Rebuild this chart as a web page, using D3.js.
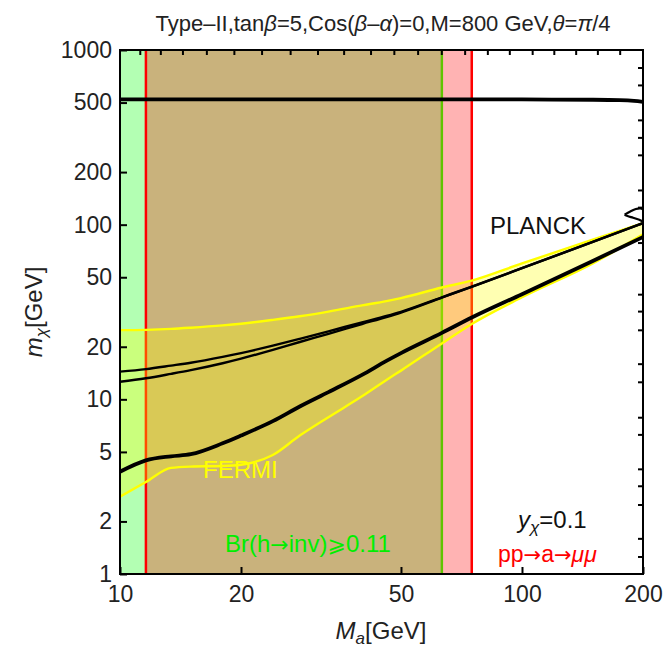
<!DOCTYPE html>
<html>
<head>
<meta charset="utf-8">
<script src="https://cdn.jsdelivr.net/npm/d3@7"></script>
<style>
  body { margin: 0; background: #fff; }
  text { font-family: "Liberation Sans", Arial, sans-serif; }
  .arrow { font-family: "DejaVu Sans", sans-serif; }
</style>
</head>
<body>
<div id="chart"></div>
<script>
var width = 664;
var height = 647;
var margin = {top: 50, left: 120, right: 21, bottom: 73};

// axis ticks
var xTicks = [10, 20, 50, 100, 200];
var yTicks = [1, 2, 5, 10, 20, 50, 100, 200, 500, 1000];
var topTicks = [11.2, 12.6, 14.3, 16.4, 19.2, 22.5, 26.5, 31, 36, 42, 48, 55, 63, 72, 82, 93, 106, 120, 136, 154, 175];
var rightTicks = [794, 631, 398, 316, 251, 158, 126, 79, 63, 40, 32, 25, 16, 12.6, 7.9, 6.3, 4, 3.2, 2.5, 1.6, 1.26];

// excluded bands (Ma in GeV)
var brInvBand = [10, 63.2];
var dimuonBand = [11.6, 75];

// curves, m_chi sampled on maGrid
var maGrid = [10, 11.6, 13.4, 15, 18, 20, 24, 28, 33, 40, 46, 50, 63.2, 75, 100, 150, 200];
var fermiUpper = [24.9, 25.0, 25.3, 25.7, 26.5, 27.1, 28.5, 29.9, 31.8, 34.5, 36.5, 38.0, 43.7, 47.8, 60, 82, 102];
var fermiLower = [2.77, 3.36, 4.05, 4.12, 4.15, 4.22, 4.8, 6.2, 7.9, 10.4, 12.9, 14.6, 20.9, 27.0, 38.4, 60, 88];
var planckUpperA = [14.4, 14.9, 15.6, 16.2, 17.5, 18.4, 20.3, 22.2, 24.5, 27.6, 30.0, 31.7, 38.4, 44.2, 56.4, 79.7, 102];
var planckUpperB = [12.6, 13.2, 14.0, 14.7, 16.1, 17.1, 19.2, 21.3, 23.7, 27.0, 29.6, 31.4, 38.2, 44.1, 56.3, 79.6, 102];
var planckLower = [3.85, 4.47, 4.72, 4.85, 5.6, 6.2, 7.5, 9.1, 11.0, 13.8, 16.6, 18.4, 24.0, 29.4, 40, 62, 85];
var planckTopMa = [10, 50, 100, 150, 175, 190, 200];
var planckTopM = [522, 522, 521, 519, 516, 511, 505];
var loopMa = [180, 186, 192, 197, 200, 200, 195, 189, 183, 180];
var loopM = [114, 119, 123, 124, 122, 105, 107, 109.5, 112, 114];

var svg = d3.select("#chart")
  .append("svg")
  .attr("width", width)
  .attr("height", height);

var xScale = d3.scaleLog()
  .domain([10, 200])
  .range([margin.left, width - margin.right]);

var yScale = d3.scaleLog()
  .domain([1, 1000])
  .range([height - margin.bottom, margin.top]);

svg.append("clipPath").attr("id", "plot")
  .append("rect")
  .attr("x", margin.left).attr("y", margin.top)
  .attr("width", width - margin.left - margin.right)
  .attr("height", height - margin.top - margin.bottom);

var g = svg.append("g").attr("clip-path", "url(#plot)");

// bands
g.append("rect")
  .attr("x", xScale(brInvBand[0])).attr("y", margin.top)
  .attr("width", xScale(brInvBand[1]) - xScale(brInvBand[0]))
  .attr("height", height - margin.top - margin.bottom)
  .attr("fill", "#b3ffb3");
g.append("rect")
  .attr("x", xScale(dimuonBand[0])).attr("y", margin.top)
  .attr("width", xScale(dimuonBand[1]) - xScale(dimuonBand[0]))
  .attr("height", height - margin.top - margin.bottom)
  .attr("fill", "#ffb3b3");
g.append("rect")
  .attr("x", xScale(dimuonBand[0])).attr("y", margin.top)
  .attr("width", xScale(brInvBand[1]) - xScale(dimuonBand[0]))
  .attr("height", height - margin.top - margin.bottom)
  .attr("fill", "#c9b27c");

[dimuonBand[0], dimuonBand[1]].forEach(function(v) {
  g.append("line")
    .attr("x1", xScale(v)).attr("x2", xScale(v))
    .attr("y1", margin.top).attr("y2", height - margin.bottom)
    .attr("stroke", "#ff0000").attr("stroke-width", 2.5);
});
g.append("line")
  .attr("x1", xScale(brInvBand[1])).attr("x2", xScale(brInvBand[1]))
  .attr("y1", margin.top).attr("y2", height - margin.bottom)
  .attr("stroke", "#5fc400").attr("stroke-width", 2.4);

// fermi region
var area = d3.area()
  .x(function(d, i) { return xScale(maGrid[i]); })
  .y0(function(d, i) { return yScale(fermiLower[i]); })
  .y1(function(d, i) { return yScale(fermiUpper[i]); })
  .curve(d3.curveMonotoneX);
g.append("path")
  .attr("d", area(maGrid))
  .attr("fill", "#ffff00")
  .attr("fill-opacity", 0.3);

function curveOf(ys) {
  return d3.line()
    .x(function(d, i) { return xScale(maGrid[i]); })
    .y(function(d) { return yScale(d); })
    .curve(d3.curveMonotoneX)(ys);
}

[fermiUpper, fermiLower].forEach(function(ys) {
  g.append("path").attr("d", curveOf(ys))
    .attr("fill", "none").attr("stroke", "#ffff00").attr("stroke-width", 2.4);
});

[planckUpperA, planckUpperB].forEach(function(ys) {
  g.append("path").attr("d", curveOf(ys))
    .attr("fill", "none").attr("stroke", "#000").attr("stroke-width", 2.4);
});
g.append("path").attr("d", curveOf(planckLower))
  .attr("fill", "none").attr("stroke", "#000").attr("stroke-width", 3.8);

var topLine = d3.line()
  .x(function(d, i) { return xScale(planckTopMa[i]); })
  .y(function(d) { return yScale(d); })
  .curve(d3.curveMonotoneX);
g.append("path").attr("d", topLine(planckTopM))
  .attr("fill", "none").attr("stroke", "#000").attr("stroke-width", 3.8);

var loopLine = d3.line()
  .x(function(d, i) { return xScale(loopMa[i]); })
  .y(function(d) { return yScale(d); })
  .curve(d3.curveCatmullRom);
g.append("path").attr("d", loopLine(loopM))
  .attr("fill", "none").attr("stroke", "#000").attr("stroke-width", 2.2);

// axes
var bottom = height - margin.bottom;
var right = width - margin.right;

svg.append("g")
  .attr("transform", `translate(0,${bottom})`)
  .call(d3.axisBottom(xScale).tickValues(xTicks).tickSize(-7).tickPadding(12).tickFormat(d3.format("d")))
  .call(function(a) { a.select(".domain").remove(); });

svg.append("g")
  .attr("transform", `translate(${margin.left},0)`)
  .call(d3.axisLeft(yScale).tickValues(yTicks).tickSize(-7).tickPadding(8).tickFormat(d3.format("d")))
  .call(function(a) { a.select(".domain").remove(); });

svg.append("g")
  .attr("transform", `translate(0,${margin.top})`)
  .call(d3.axisTop(xScale).tickValues(topTicks).tickSize(-5).tickFormat(""))
  .call(function(a) { a.select(".domain").remove(); });

svg.append("g")
  .attr("transform", `translate(${right},0)`)
  .call(d3.axisRight(yScale).tickValues(rightTicks).tickSize(-5).tickFormat(""))
  .call(function(a) { a.select(".domain").remove(); });

svg.selectAll(".tick line").attr("stroke", "#000").attr("stroke-width", 2);
svg.selectAll(".tick text").attr("font-size", 23).attr("fill", "#222")
  .style("font-family", '"Liberation Sans", Arial, sans-serif');

svg.append("rect")
  .attr("x", margin.left).attr("y", margin.top)
  .attr("width", right - margin.left).attr("height", bottom - margin.top)
  .attr("fill", "none").attr("stroke", "#000").attr("stroke-width", 2);

// labels
var title = svg.append("text").attr("x", 383).attr("y", 31)
  .attr("text-anchor", "middle").attr("font-size", 22).attr("fill", "#222");
title.append("tspan").text("Type\u2013II,tan");
title.append("tspan").attr("font-style", "italic").text("\u03b2");
title.append("tspan").text("=5,Cos(");
title.append("tspan").attr("font-style", "italic").text("\u03b2");
title.append("tspan").text("\u2013");
title.append("tspan").attr("font-style", "italic").text("\u03b1");
title.append("tspan").text(")=0,M=800 GeV,");
title.append("tspan").attr("font-style", "italic").text("\u03b8");
title.append("tspan").text("=");
title.append("tspan").attr("font-style", "italic").text("\u03c0");
title.append("tspan").text("/4");

var xl = svg.append("text").attr("x", 381).attr("y", 639)
  .attr("text-anchor", "middle").attr("font-size", 24).attr("fill", "#222");
xl.append("tspan").attr("font-style", "italic").text("M");
xl.append("tspan").attr("font-style", "italic").attr("font-size", 17).attr("dy", 5).text("a");
xl.append("tspan").attr("dy", -5).text("[GeV]");

var yl = svg.append("text").attr("transform", "translate(42,312) rotate(-90)")
  .attr("text-anchor", "middle").attr("font-size", 24).attr("fill", "#222");
yl.append("tspan").attr("font-style", "italic").text("m");
yl.append("tspan").attr("font-style", "italic").attr("font-size", 17).attr("dy", 5).text("\u03c7");
yl.append("tspan").attr("dy", -5).text("[GeV]");

svg.append("text").attr("x", 490).attr("y", 234)
  .attr("font-size", 24).attr("fill", "#111").text("PLANCK");

svg.append("text").attr("x", 203).attr("y", 478)
  .attr("font-size", 24).attr("fill", "#ffff00").text("FERMI");

var br = svg.append("text").attr("x", 225).attr("y", 552)
  .attr("font-size", 24).attr("fill", "#00ee00");
br.append("tspan").text("Br(h");
br.append("tspan").attr("class", "arrow").attr("font-size", 22).text("\u2192");
br.append("tspan").text("inv)");
br.append("tspan").attr("class", "arrow").attr("font-size", 22).text("\u2a7e");
br.append("tspan").text("0.11");

var yx = svg.append("text").attr("x", 518).attr("y", 528)
  .attr("font-size", 24).attr("fill", "#111");
yx.append("tspan").attr("font-style", "italic").text("y");
yx.append("tspan").attr("font-style", "italic").attr("font-size", 17).attr("dy", 5).text("\u03c7");
yx.append("tspan").attr("dy", -5).text("=0.1");

var pp = svg.append("text").attr("x", 498).attr("y", 562)
  .attr("font-size", 23).attr("fill", "#ff0000");
pp.append("tspan").text("pp");
pp.append("tspan").attr("class", "arrow").attr("font-size", 21).text("\u2192");
pp.append("tspan").text("a");
pp.append("tspan").attr("class", "arrow").attr("font-size", 21).text("\u2192");
pp.append("tspan").attr("font-style", "italic").text("\u03bc\u03bc");
</script>
</body>
</html>
